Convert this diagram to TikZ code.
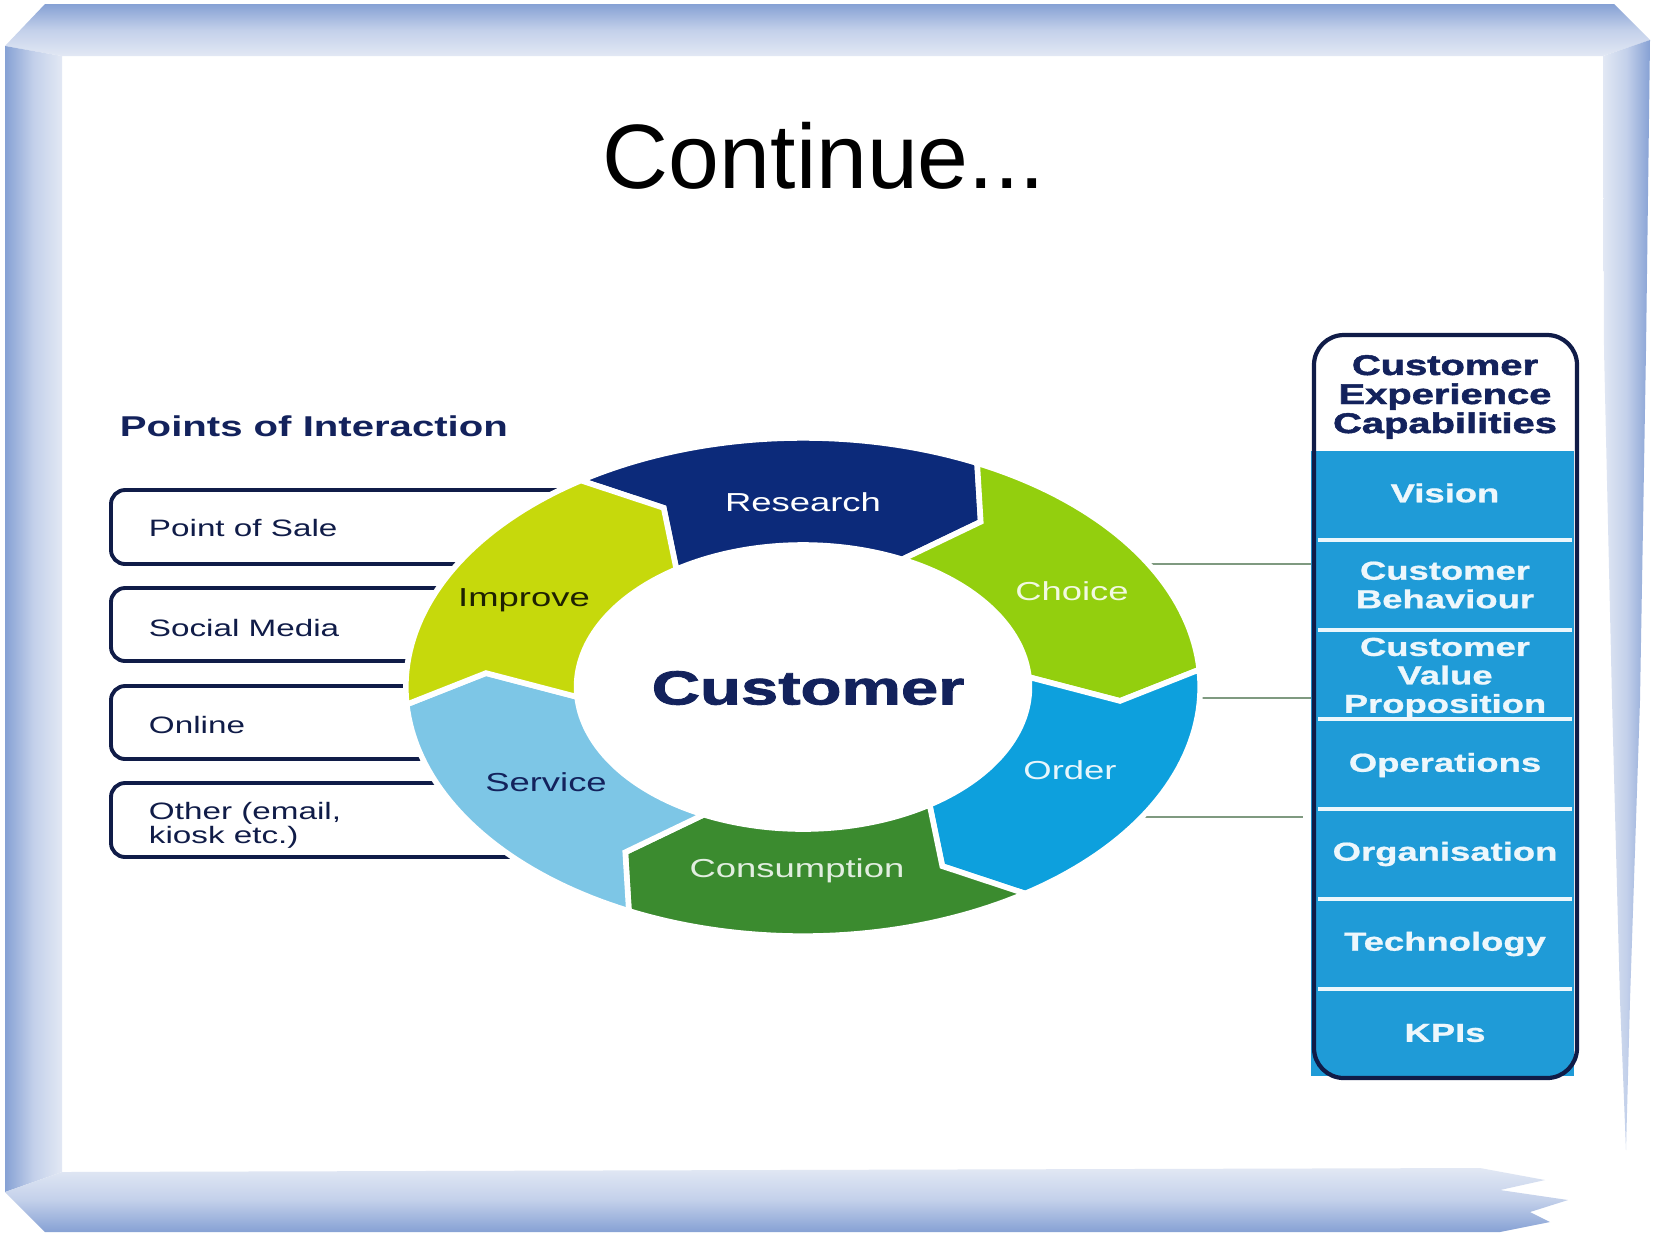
\documentclass[tikz,border=0pt]{standalone}
\usepackage{fontspec}
\setmainfont{Liberation Sans}
\newfontfamily\heavyfont{Liberation Sans}[BoldFeatures={FakeBold=1.6}]
\newfontfamily\semiheavyfont{Liberation Sans}[BoldFeatures={FakeBold=0.8}]
\definecolor{fdark}{HTML}{86A1D4}
\definecolor{fmid}{HTML}{C3D0EA}
\definecolor{flight}{HTML}{E2E8F4}
\definecolor{navy}{HTML}{101C48}
\definecolor{headnavy}{HTML}{13225C}
\definecolor{cResearch}{HTML}{0C2A7A}
\definecolor{cChoice}{HTML}{93CF0E}
\definecolor{cOrder}{HTML}{0DA0DD}
\definecolor{cCons}{HTML}{3B8B2F}
\definecolor{cService}{HTML}{7DC6E6}
\definecolor{cImprove}{HTML}{C6D90C}
\definecolor{panelblue}{HTML}{1F9BD7}
\definecolor{connc}{HTML}{7F9A80}
\begin{document}
\begin{tikzpicture}[x=0.01cm,y=-0.01cm,
  seglabel/.style={font=\fontsize{7.4}{8.5}\selectfont, xscale=1.4, inner sep=0pt},
  boxlabel/.style={font=\fontsize{6.75}{6.9}\selectfont, xscale=1.4, anchor=west, align=left, inner sep=0pt, text=navy},
  itemlabel/.style={font=\semiheavyfont\bfseries\fontsize{7.4}{8.1}\selectfont, xscale=1.4, align=center, inner sep=0pt, text=white!92!panelblue},
  boxline/.style={draw=navy, line width=1.1pt, rounded corners=4pt},
  sepline/.style={draw=white!92!panelblue, line width=0.9pt},
  conn/.style={draw=connc, line width=0.45pt}]
\useasboundingbox (0,0) rectangle (1654,1241);
\fill[white] (0,0) rectangle (1654,1241);
% ---- frame
\shade[top color=fdark, bottom color=flight, middle color=fmid] (5,46) -- (45,4) -- (1614,4) -- (1650,40) -- (1603,56) -- (62,56) -- cycle;
\shade[left color=flight, right color=fdark, middle color=fmid] (1603,56) -- (1650,40) -- (1646,350) -- (1640,700) -- (1630,1000) -- (1626,1150) -- (1620,1000) -- (1612,700) -- (1604,350) -- cycle;
\shade[left color=fdark, right color=flight, middle color=fmid] (5,46) -- (62,56) -- (62,1172) -- (5,1192) -- cycle;
\shade[top color=flight, bottom color=fdark, middle color=fmid] (5,1192) -- (62,1172) -- (1480,1168) -- (1545,1180) -- (1500,1190) -- (1568,1200) -- (1530,1212) -- (1550,1222) -- (1500,1232) -- (45,1232) -- cycle;
% ---- title
\node[anchor=base, font=\fontsize{26}{31}\selectfont] (title) at (824,188) {Continue...};
% ---- points of interaction
\node[anchor=west, inner sep=0pt, font=\bfseries\fontsize{8.15}{9}\selectfont, xscale=1.4, text=headnavy] (poi) at (119,426) {Points of Interaction};
\draw[boxline] (803,490) -- (111,490) -- (111,564) -- (803,564);
\draw[boxline] (803,588) -- (111,588) -- (111,661) -- (803,661);
\draw[boxline] (803,686) -- (111,686) -- (111,759) -- (803,759);
\draw[boxline] (803,783) -- (111,783) -- (111,857) -- (803,857);
\node[boxlabel] (pos) at (148,528) {Point of Sale};
\node[boxlabel] (soc) at (148,628) {Social Media};
\node[boxlabel] (onl) at (148,725) {Online};
\node[boxlabel] (oth) at (148,825) {Other (email,\\kiosk etc.)};
% ---- connectors to panel
\coordinate (r1) at (1140,564); \coordinate (p1) at (1313,564);
\coordinate (r2) at (1190,698); \coordinate (p2) at (1313,698);
\coordinate (r3) at (1133,817); \coordinate (p3) at (1303,817);
\draw[conn] (r1) -- (p1);
\draw[conn] (r2) -- (p2);
\draw[conn] (r3) -- (p3);
% ---- ring
\begin{scope}[shift={(803,687)}, x=3.97cm, y=2.49cm]
  \fill[white] plot[domain=0:360, samples=120] ({0.57*cos(\x)},{0.57*sin(\x)}) -- cycle;
  \foreach \segS/\col in {124/cResearch, 64/cChoice, 4/cOrder, -56/cCons, -116/cService, 184/cImprove}{
    \pgfmathsetmacro\segE{\segS-60}
    \pgfmathsetmacro\segA{\segS-68}
    \pgfmathsetmacro\segB{\segS-8}
    \fill[\col, draw=white, line width=1.6pt, line join=miter]
      plot[domain=\segS:\segE, samples=40] ({cos(\x)},{sin(\x)})
      -- ({0.8*cos(\segA)},{0.8*sin(\segA)})
      -- ({0.57*cos(\segE)},{0.57*sin(\segE)})
      -- plot[domain=\segE:\segS, samples=40] ({0.57*cos(\x)},{0.57*sin(\x)})
      -- ({0.8*cos(\segB)},{0.8*sin(\segB)})
      -- cycle;
  }
\end{scope}
\node[seglabel, text=white] (research) at (803,502) {Research};
\node[seglabel, text=white!88!cChoice] (choice) at (1072,591) {Choice};
\node[seglabel, text=white!90!cOrder] (order) at (1070,770) {Order};
\node[seglabel, text=white!85!cCons] (consumption) at (797,871) {Consumption};
\node[seglabel, text=headnavy] (service) at (546,782) {Service};
\node[seglabel, text=black!85!cImprove] (improve) at (524,600) {Improve};
\node[font=\heavyfont\bfseries\fontsize{13.6}{15}\selectfont, xscale=1.4, text=headnavy, inner sep=0pt] (customer) at (808,688) {Customer};
% ---- right panel
\fill[panelblue] (1311,451) rectangle (1574,1076);
\draw[sepline] (1318,540) -- (1572,540);
\draw[sepline] (1318,630) -- (1572,630);
\draw[sepline] (1318,719) -- (1572,719);
\draw[sepline] (1318,809) -- (1572,809);
\draw[sepline] (1318,899) -- (1572,899);
\draw[sepline] (1318,989) -- (1572,989);
\draw[draw=navy, line width=1.2pt, rounded corners=8.5pt] (1314,335) rectangle (1577,1078);
\node[font=\heavyfont\bfseries\fontsize{8.1}{8.25}\selectfont, xscale=1.4, align=center, inner sep=0pt, text=headnavy] (cec) at (1445,397) {Customer\\Experience\\Capabilities};
\node[itemlabel] (vision) at (1445,493) {Vision};
\node[itemlabel] (behav) at (1445,585) {Customer\\Behaviour};
\node[itemlabel] (cvp) at (1445,678) {Customer\\Value\\Proposition};
\node[itemlabel] (ops) at (1445,765) {Operations};
\node[itemlabel] (org) at (1445,854) {Organisation};
\node[itemlabel] (tech) at (1445,944) {Technology};
\node[itemlabel] (kpi) at (1445,1033) {KPIs};
\end{tikzpicture}
\end{document}
